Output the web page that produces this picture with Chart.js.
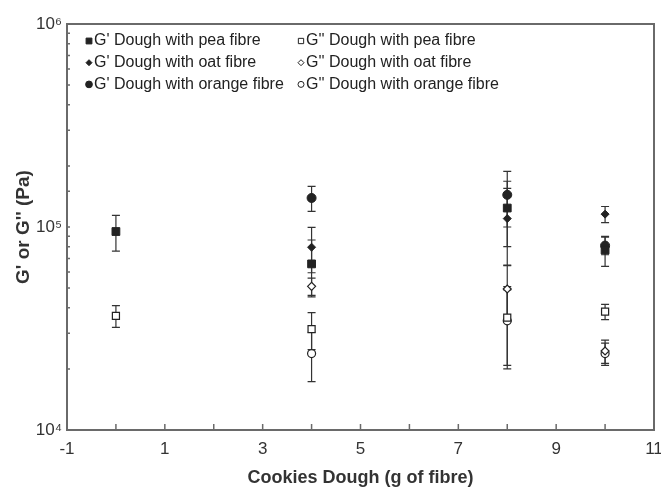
<!DOCTYPE html>
<html lang="en">
<head>
  <meta charset="UTF-8">
  <title>G' and G'' of cookie doughs</title>
  <script src="https://cdn.jsdelivr.net/npm/chart.js"></script>
  <style>
    body { margin: 0; background: white; }
    #wrap { width: 661px; height: 493px; }
  </style>
</head>
<body>
<div id="wrap"><canvas id="grafica" width="661" height="493"></canvas></div>

<script>
// fibre content (g) of each dough
const xPea = [0, 4, 8, 10];
const xOther = [4, 8, 10];

// storage modulus G' (Pa) and its error
const gPea = [95000, 65800, 124000, 77000];
const gPeaErr = [19000, 20500, 44000, 13000];
const gOat = [79500, 110000, 115700];
const gOatErr = [20000, 45000, 10500];
const gOrange = [139000, 144000, 81000];
const gOrangeErr = [19500, 44000, 8000];

// loss modulus G'' (Pa) and its error
const g2Pea = [36500, 31400, 35800, 38300];
const g2PeaErr = [4500, 6500, 15000, 3300];
const g2Oat = [51000, 49500, 24500];
const g2OatErr = [5000, 15000, 3200];
const g2Orange = [23800, 34500, 23800];
const g2OrangeErr = [6500, 14500, 3000];

const labels = [
  "G' Dough with pea fibre", "G'' Dough with pea fibre",
  "G' Dough with oat fibre", "G'' Dough with oat fibre",
  "G' Dough with orange fibre", "G'' Dough with orange fibre"
];

const sup = { 4: "\u2074", 5: "\u2075", 6: "\u2076" };
const ink = "#222";
const fuente = "'Liberation Sans', Arial, sans-serif";

function serie(label, xs, ys, errs, estilo, radio, abierto) {
  return {
    label: label,
    data: xs.map((x, i) => ({ x: x, y: ys[i] })),
    errores: errs,
    pointStyle: estilo,
    pointRadius: radio,
    pointHoverRadius: radio,
    pointBackgroundColor: abierto ? "white" : ink,
    pointBorderColor: ink,
    pointBorderWidth: abierto ? 1.2 : 1,
    showLine: false
  };
}

const datasets = [
  serie(labels[0], xPea, gPea, gPeaErr, "rect", 5.5, false),
  serie(labels[1], xPea, g2Pea, g2PeaErr, "rect", 5, true),
  serie(labels[2], xOther, gOat, gOatErr, "rectRot", 4, false),
  serie(labels[3], xOther, g2Oat, g2OatErr, "rectRot", 4, true),
  serie(labels[4], xOther, gOrange, gOrangeErr, "circle", 4.5, false),
  serie(labels[5], xOther, g2Orange, g2OrangeErr, "circle", 4, true)
];

// error bars, drawn under the markers
const barrasError = {
  id: "barrasError",
  beforeDatasetsDraw(chart) {
    const ctx = chart.ctx, ys = chart.scales.y;
    ctx.save();
    ctx.strokeStyle = "#333";
    ctx.lineWidth = 1.2;
    chart.data.datasets.forEach((ds, i) => {
      const meta = chart.getDatasetMeta(i);
      meta.data.forEach((p, j) => {
        const v = ds.data[j].y, e = ds.errores[j];
        const t = ys.getPixelForValue(v + e), b = ys.getPixelForValue(v - e);
        ctx.beginPath();
        ctx.moveTo(p.x, t); ctx.lineTo(p.x, b);
        ctx.moveTo(p.x - 4, t); ctx.lineTo(p.x + 4, t);
        ctx.moveTo(p.x - 4, b); ctx.lineTo(p.x + 4, b);
        ctx.stroke();
      });
    });
    ctx.restore();
  }
};

// frame, inward ticks and the two-column legend
const marco = {
  id: "marco",
  afterDraw(chart) {
    const ctx = chart.ctx, a = chart.chartArea;
    const xs = chart.scales.x, ys = chart.scales.y;
    ctx.save();
    ctx.strokeStyle = "#6a6a6a";
    ctx.lineWidth = 2;
    ctx.strokeRect(a.left, a.top, a.right - a.left, a.bottom - a.top);

    ctx.lineWidth = 1.5;
    ctx.beginPath();
    xs.ticks.forEach(t => {
      const px = xs.getPixelForValue(t.value);
      ctx.moveTo(px, a.bottom); ctx.lineTo(px, a.bottom - 6);
    });
    ys.ticks.forEach(t => {
      const py = ys.getPixelForValue(t.value);
      ctx.moveTo(a.left, py); ctx.lineTo(a.left + 3, py);
    });
    ctx.stroke();

    // legend
    ctx.font = "16px " + fuente;
    ctx.textBaseline = "middle";
    chart.data.datasets.forEach((ds, i) => {
      const col = i % 2, fila = Math.floor(i / 2);
      const mx = a.left + 22 + col * 212;
      const my = a.top + 17 + fila * 21.7;
      ctx.fillStyle = ds.pointBackgroundColor;
      ctx.strokeStyle = ink;
      ctx.lineWidth = 1;
      Chart.helpers.drawPoint(ctx, {
        pointStyle: ds.pointStyle,
        radius: ds.pointRadius * 0.75,
        borderWidth: 1
      }, mx, my);
      ctx.fillStyle = ink;
      ctx.fillText(ds.label, mx + 5, my);
    });
    ctx.restore();
  }
};

new Chart(document.getElementById("grafica"), {
  type: "scatter",
  data: { datasets: datasets },
  plugins: [barrasError, marco],
  options: {
    responsive: false,
    animation: false,
    layout: { padding: { top: 24, right: 7, left: 0, bottom: 0 } },
    plugins: { legend: { display: false }, tooltip: { enabled: false } },
    scales: {
      x: {
        type: "linear", min: -1, max: 11,
        grid: { display: false, drawTicks: false },
        border: { display: false },
        ticks: {
          stepSize: 1, autoSkip: false, maxRotation: 0, padding: 9,
          color: "#333", font: { size: 17, family: fuente },
          callback: v => (v % 2 !== 0 ? String(v) : "")
        },
        title: {
          display: true, text: "Cookies Dough (g of fibre)", color: "#333",
          font: { size: 18, weight: "bold", family: fuente },
          padding: { top: 0, bottom: 4 }
        },
        afterFit: s => { s.height = 63; s.paddingLeft = 0; s.paddingRight = 0; }
      },
      y: {
        type: "logarithmic", min: 10000, max: 1000000,
        grid: { display: false, drawTicks: false },
        border: { display: false },
        ticks: {
          padding: 5, autoSkip: false,
          color: "#333", font: { size: 17, family: fuente },
          callback: v => {
            const e = Math.log10(v);
            return Math.abs(e - Math.round(e)) < 1e-9 ? "10" + sup[Math.round(e)] : "";
          }
        },
        title: {
          display: true, text: "G' or G'' (Pa)", color: "#333",
          font: { size: 19, weight: "bold", family: fuente },
          padding: { top: 12, bottom: 0 }
        },
        afterFit: s => { s.width = 67; s.paddingTop = 0; s.paddingBottom = 0; }
      }
    }
  }
});
</script>
</body>
</html>
